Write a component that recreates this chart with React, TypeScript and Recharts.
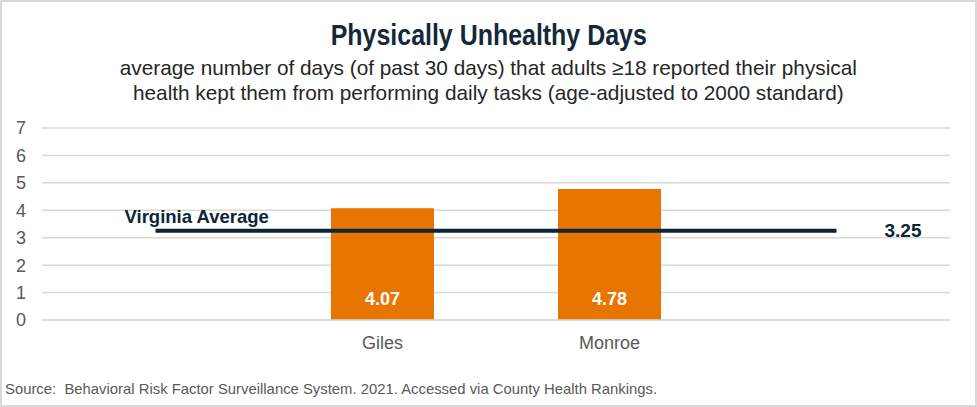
import React from "react";
import { Bar, CartesianGrid, ComposedChart, LabelList, Line, XAxis, YAxis } from "recharts";

const categorias = ["", "Giles", "Monroe", ""];
const valores = [null, 4.07, 4.78, null];
const mediaVirginia = 3.25;
const ticksY = [0, 1, 2, 3, 4, 5, 6, 7];

const dados = categorias.map((c, i) => ({ id: i, nome: c, valor: valores[i], media: mediaVirginia }));

const SANS = "'Liberation Sans', Arial, sans-serif";

function rotuloMedia(p: any) {
  const { x, y, index } = p;
  if (index === 0)
    return (
      <text x={x - 31} y={y - 8} fontFamily={SANS} fontWeight="bold" fontSize={18.5} fill="#0d2535">
        Virginia Average
      </text>
    );
  if (index === categorias.length - 1)
    return (
      <text x={x + 48} y={y + 6} fontFamily={SANS} fontWeight="bold" fontSize={19} fill="#0d2535">
        {mediaVirginia.toFixed(2)}
      </text>
    );
  return null;
}

function rotuloBarra(p: any) {
  const { x, y, width, height, value } = p;
  if (value == null) return null;
  return (
    <text
      x={x + width / 2}
      y={y + height - 15}
      textAnchor="middle"
      fontFamily={SANS}
      fontWeight="bold"
      fontSize={18}
      fill="#ffffff"
    >
      {Number(value).toFixed(2)}
    </text>
  );
}

// texto estreito (a fonte original é condensada)
function Estreito({ children, escala, style }: { children: React.ReactNode; escala: number; style: React.CSSProperties }) {
  return (
    <div style={{ position: "absolute", left: 0, width: 973, textAlign: "center", ...style }}>
      <div style={{ display: "inline-block", transform: `scaleX(${escala})`, transformOrigin: "center" }}>{children}</div>
    </div>
  );
}

export default function App() {
  return (
    <div
      style={{
        position: "relative",
        width: 977,
        height: 407,
        border: "2px solid #d9d9d9",
        boxSizing: "border-box",
        background: "#fff",
        overflow: "hidden",
      }}
    >
      <style>{"body{margin:0}"}</style>
      <Estreito
        escala={0.86}
        style={{ top: 17, fontFamily: SANS, fontWeight: "bold", fontSize: 29, color: "#13293a", lineHeight: "32px" }}
      >
        Physically Unhealthy Days
      </Estreito>
      <Estreito escala={0.99} style={{ top: 53, fontFamily: SANS, fontSize: 21, color: "#262626", lineHeight: "25px" }}>
        average number of days (of past 30 days) that adults ≥18 reported their physical
        <br />
        health kept them from performing daily tasks (age-adjusted to 2000 standard)
      </Estreito>
      <div
        style={{
          position: "absolute",
          top: 378,
          left: 3,
          fontFamily: SANS,
          fontSize: 15,
          color: "#595959",
          lineHeight: "18px",
          transform: "scaleX(0.99)",
          transformOrigin: "left",
          whiteSpace: "nowrap",
        }}
      >
        Source:&nbsp; Behavioral Risk Factor Surveillance System. 2021. Accessed via County Health Rankings.
      </div>
      <div style={{ position: "absolute", left: -2, top: -2 }}>
        <ComposedChart
          width={977}
          height={407}
          data={dados}
          margin={{ top: 128, right: 27, bottom: 47, left: 0 }}
          barCategoryGap={0}
        >
          <CartesianGrid vertical={false} stroke="#d9d9d9" strokeWidth={1.5} />
          <XAxis
            dataKey="id"
            tickFormatter={(i: number) => categorias[i]}
            axisLine={{ stroke: "#d9d9d9", strokeWidth: 1.5 }}
            tickLine={false}
            tick={{ fontFamily: SANS, fontSize: 18, fill: "#595959" }}
            tickMargin={10}
            height={40}
          />
          <YAxis
            domain={[0, 7]}
            ticks={ticksY}
            interval={0}
            width={42}
            axisLine={false}
            tickLine={false}
            tickMargin={10}
            tick={{ fontFamily: SANS, fontSize: 18, fill: "#595959" }}
          />
          <Bar dataKey="valor" fill="#e87500" barSize={103} isAnimationActive={false}>
            <LabelList dataKey="valor" content={rotuloBarra} />
          </Bar>
          <Line
            dataKey="media"
            stroke="#0d2535"
            strokeWidth={4}
            dot={false}
            activeDot={false}
            isAnimationActive={false}
          >
            <LabelList dataKey="media" content={rotuloMedia} />
          </Line>
        </ComposedChart>
      </div>
    </div>
  );
}
